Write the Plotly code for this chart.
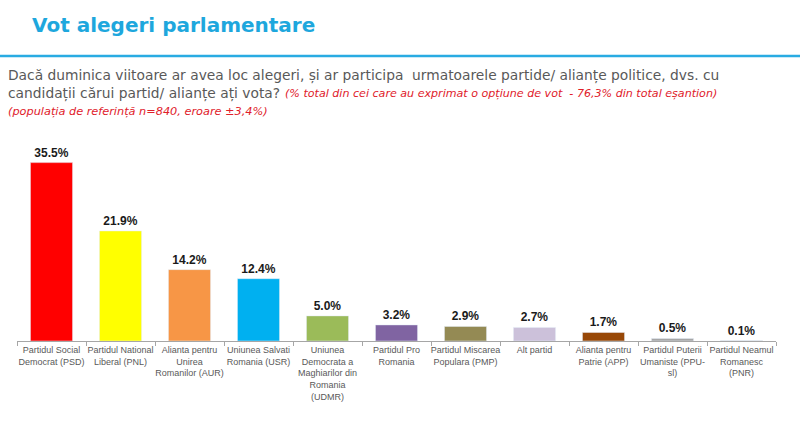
import plotly.graph_objects as go

# data
parties = [
    "Partidul Social<br>Democrat (PSD)",
    "Partidul National<br>Liberal (PNL)",
    "Alianta pentru<br>Unirea<br>Romanilor (AUR)",
    "Uniunea Salvati<br>Romania (USR)",
    "Uniunea<br>Democrata a<br>Maghiarilor din<br>Romania<br>(UDMR)",
    "Partidul Pro<br>Romania",
    "Partidul Miscarea<br>Populara (PMP)",
    "Alt partid",
    "Alianta pentru<br>Patrie (APP)",
    "Partidul Puterii<br>Umaniste (PPU-<br>sl)",
    "Partidul Neamul<br>Romanesc<br>(PNR)",
]
votes = [35.5, 21.9, 14.2, 12.4, 5.0, 3.2, 2.9, 2.7, 1.7, 0.5, 0.1]
bar_colors = ["#ff0000", "#ffff00", "#f79646", "#00b0f0", "#9bbb59", "#8064a2",
              "#948a54", "#ccc1da", "#984807", "#a6a6a6", "#bfbfbf"]

W, H = 800, 447
L, R, T, B = 17, 24, 140, 106
pw, ph = W - L - R, H - T - B


def px(x):
    return (x - L) / pw


def py(y):
    return (H - B - y) / ph


fig = go.Figure(go.Bar(
    x=parties,
    y=votes,
    marker_color=bar_colors,
    text=[f"{v:.1f}%" for v in votes],
    textposition="outside",
    textfont=dict(family="Liberation Sans, Arial", size=12, color="#1a1a1a", weight="bold"),
    cliponaxis=False,
))

fig.add_shape(type="line", xref="paper", yref="paper",
              x0=px(0), x1=px(W), y0=py(56), y1=py(56),
              line=dict(color="#29abe2", width=2.5))

fig.add_annotation(xref="paper", yref="paper", x=px(30), y=py(25),
                   xanchor="left", yanchor="middle", showarrow=False,
                   text="<b>Vot alegeri parlamentare</b>",
                   font=dict(family="DejaVu Sans", size=20, color="#1ea7dd"))

fig.add_annotation(xref="paper", yref="paper", x=px(6), y=py(75),
                   xanchor="left", yanchor="middle", showarrow=False,
                   text="Dacă duminica viitoare ar avea loc alegeri, și ar participa  urmatoarele partide/ alianțe politice, dvs. cu",
                   font=dict(family="DejaVu Sans", size=13.8, color="#595959"))

fig.add_annotation(xref="paper", yref="paper", x=px(6), y=py(93),
                   xanchor="left", yanchor="middle", showarrow=False,
                   text="candidații cărui partid/ alianțe ați vota?",
                   font=dict(family="DejaVu Sans", size=13.8, color="#595959"))

fig.add_annotation(xref="paper", yref="paper", x=px(283), y=py(94),
                   xanchor="left", yanchor="middle", showarrow=False,
                   text="<i>(% total din cei care au exprimat o opțiune de vot  - 76,3% din total eșantion)</i>",
                   font=dict(family="DejaVu Sans", size=11.1, color="#e0202a"))

fig.add_annotation(xref="paper", yref="paper", x=px(6), y=py(111),
                   xanchor="left", yanchor="middle", showarrow=False,
                   text="<i>(populația de referință n=840, eroare ±3,4%)</i>",
                   font=dict(family="DejaVu Sans", size=11.3, color="#e0202a"))

fig.update_layout(
    width=W, height=H,
    margin=dict(l=L, r=R, t=T, b=B),
    paper_bgcolor="white",
    plot_bgcolor="white",
    bargap=0.39,
    showlegend=False,
    xaxis=dict(
        showline=True, linecolor="#a6a6a6", linewidth=1,
        ticks="outside", tickson="boundaries", ticklen=4, tickcolor="#a6a6a6",
        tickangle=0,
        tickfont=dict(family="Liberation Sans, Arial", size=9, color="#595959"),
    ),
    yaxis=dict(range=[0, 40], visible=False),
)

fig.write_html("out.html", config={"displayModeBar": False},
               post_script="document.body.style.margin='0px';")
